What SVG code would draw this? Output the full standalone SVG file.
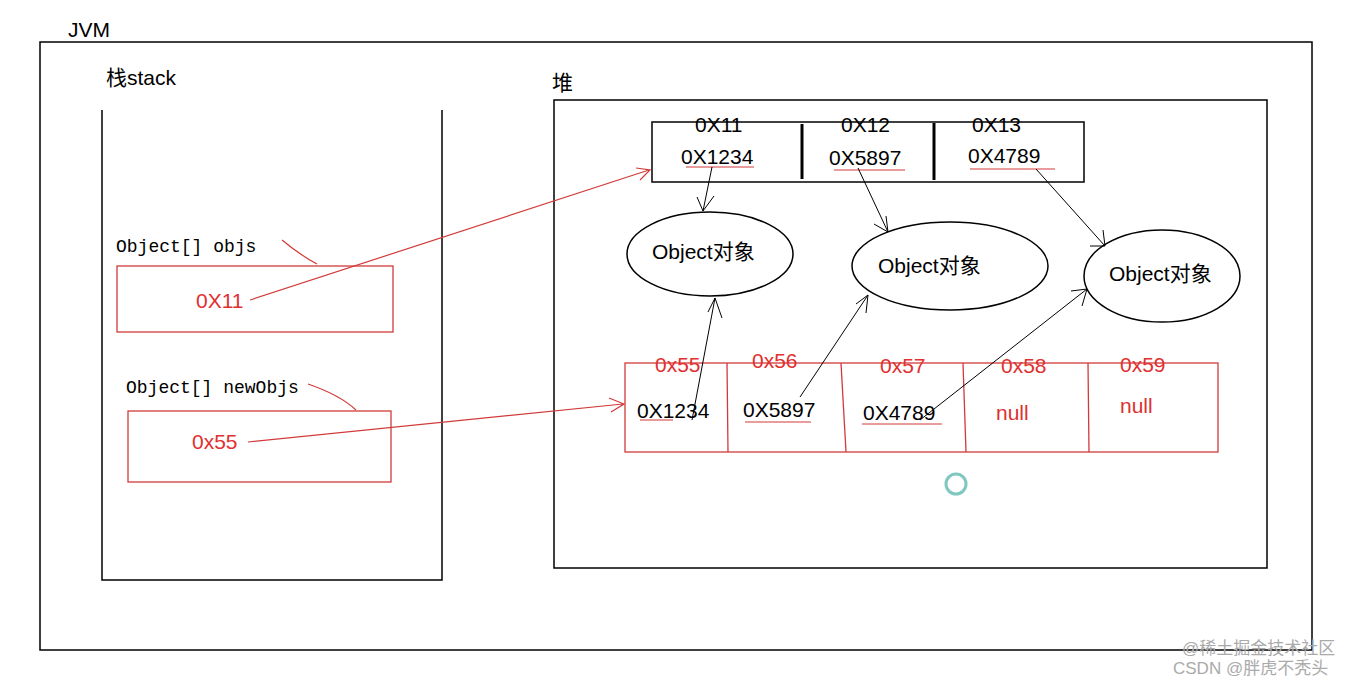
<svg xmlns="http://www.w3.org/2000/svg" width="1361" height="683" viewBox="0 0 1361 683">
<style>
.b{fill:none;stroke:#000;stroke-width:1.5}
.r{fill:none;stroke:#d23a3a;stroke-width:1.3}
.t{font-family:"Liberation Sans","Noto Sans CJK SC",sans-serif;font-size:21px;fill:#000}
.tr{font-family:"Liberation Sans","Noto Sans CJK SC",sans-serif;font-size:21px;fill:#e03030}
.m{font-family:"Liberation Mono",monospace;font-size:18px;fill:#000}
.w{font-family:"Liberation Sans","Noto Sans CJK SC",sans-serif;font-size:17px;fill:#aaa}
.ak{fill:none;stroke:#000;stroke-width:1}
.ar{fill:none;stroke:#d23a3a;stroke-width:1.2}
.ul{stroke:#d23a3a;stroke-width:1.2}
</style>
<rect width="1361" height="683" fill="#fff"/>
<g id="jvm"><rect class="b" x="40" y="42" width="1272" height="608"/><text class="t" x="68" y="37">JVM</text></g>
<g id="stack"><path class="b" d="M102 110 V580 H442 V110"/><text class="t" x="106" y="85">栈stack</text></g>
<g id="heap"><rect class="b" x="554" y="100" width="713" height="468"/><text class="t" x="552" y="90">堆</text></g>
<g id="objs">
<text class="m" x="116" y="252">Object[] objs</text>
<rect class="r" x="117" y="266" width="276" height="66"/>
<text class="tr" x="196" y="308">0X11</text>
</g>
<g id="newObjs">
<text class="m" x="126" y="393">Object[] newObjs</text>
<rect class="r" x="128" y="411" width="263" height="71"/>
<text class="tr" x="192" y="449">0x55</text>
</g>
<g id="arr1">
<rect class="b" x="652" y="122" width="432" height="60"/>
<line x1="802" y1="124" x2="802" y2="179" stroke="#000" stroke-width="3"/>
<line x1="934" y1="123" x2="934" y2="180" stroke="#000" stroke-width="3"/>
<text class="t" x="695" y="132">0X11</text><text class="t" x="841" y="132">0X12</text><text class="t" x="972" y="132">0X13</text>
<text class="t" x="681" y="164">0X1234</text><text class="t" x="829" y="165">0X5897</text><text class="t" x="968" y="163">0X4789</text>
<line class="ul" x1="686" y1="167" x2="754" y2="167"/><line class="ul" x1="834" y1="170" x2="905" y2="170"/><line class="ul" x1="970" y1="169" x2="1055" y2="169"/>
</g>
<g id="o1"><ellipse class="b" cx="710" cy="254" rx="83" ry="42"/><text class="t" x="652" y="259">Object对象</text></g>
<g id="o2"><ellipse class="b" cx="950" cy="266" rx="98" ry="44"/><text class="t" x="878" y="273">Object对象</text></g>
<g id="o3"><ellipse class="b" cx="1162" cy="276" rx="78" ry="46"/><text class="t" x="1109" y="281">Object对象</text></g>
<g id="arr2">
<rect class="r" x="625" y="363" width="593" height="89"/>
<line class="r" x1="727" y1="363" x2="728" y2="452"/><line class="r" x1="841" y1="363" x2="846" y2="452"/><line class="r" x1="963" y1="363" x2="966" y2="452"/><line class="r" x1="1088" y1="363" x2="1089" y2="452"/>
<text class="tr" x="655" y="372">0x55</text><text class="tr" x="752" y="368">0x56</text><text class="tr" x="880" y="373">0x57</text><text class="tr" x="1001" y="373">0x58</text><text class="tr" x="1120" y="372">0x59</text>
<text class="t" x="637" y="418">0X1234</text><text class="t" x="743" y="417">0X5897</text><text class="t" x="863" y="420">0X4789</text>
<text class="tr" x="996" y="420">null</text><text class="tr" x="1120" y="413">null</text>
<line class="ul" x1="640" y1="420" x2="673" y2="420"/><line class="ul" x1="745" y1="422" x2="811" y2="422"/><line class="ul" x1="862" y1="424" x2="942" y2="424"/>
</g>
<circle cx="956" cy="484" r="10" fill="none" stroke="#7fc8c0" stroke-width="3"/>
<g id="connectors">
<path class="ar" d="M250 300 L649 170 M636 168 L650 170 L640 180"/>
<path class="ar" d="M282 240 Q300 255 317 264"/>
<path class="ar" d="M248 442 L623 404 M609 398 L624 404 L611 412"/>
<path class="ar" d="M308 384 Q340 395 356 410"/>
<path class="ak" d="M712 167 L703 211 M697 197 L703 211 L714 196"/>
<path class="ak" d="M858 168 L888 232 M874 224 L888 232 L886 216"/>
<path class="ak" d="M1036 169 L1105 246 M1090 246 L1105 246 L1103 230"/>
<path class="ak" d="M692 420 L715 298 M708 312 L715 298 L722 318"/>
<path class="ak" d="M800 397 L868 295 M856 304 L868 295 L866 313"/>
<path class="ak" d="M920 420 L1087 289 M1071 291 L1087 289 L1082 306"/>
</g>
<g id="watermark"><text class="w" x="1182" y="654">@稀土掘金技术社区</text><text class="w" x="1173" y="674">CSDN @胖虎不秃头</text></g>
</svg>
